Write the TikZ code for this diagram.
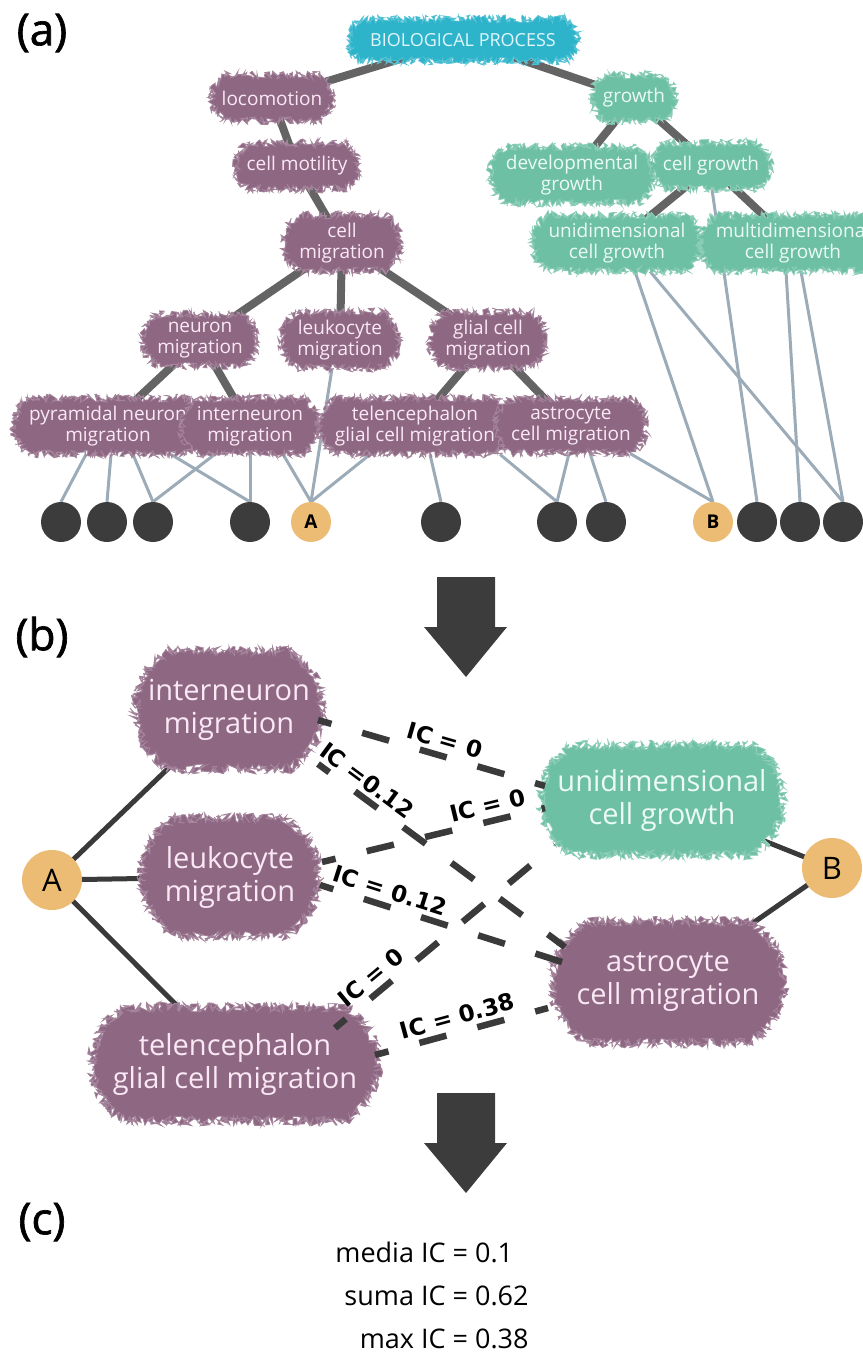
\documentclass[tikz,border=0pt]{standalone}
\usepackage{fontspec}
\setmainfont{Open Sans}
\newfontfamily\labelfont{DejaVu Sans}
\newfontfamily\panelfont[FakeBold=1.5]{Open Sans}
\usetikzlibrary{decorations.pathmorphing}
\usetikzlibrary{shapes.misc}
\usetikzlibrary{backgrounds}

\definecolor{mauve}{RGB}{142,103,131}
\definecolor{mauvetext}{RGB}{250,232,245}
\definecolor{mint}{RGB}{110,192,165}
\definecolor{minttext}{RGB}{235,250,244}
\definecolor{rootcyan}{RGB}{45,180,203}
\definecolor{roottext}{RGB}{225,246,250}
\definecolor{isagray}{RGB}{100,100,100}
\definecolor{annogray}{RGB}{156,171,184}
\definecolor{leafgray}{RGB}{60,60,60}
\definecolor{protorange}{RGB}{236,188,117}
\definecolor{darkline}{RGB}{58,58,58}

\tikzset{
  fuzz/.style={decorate, decoration={random steps, segment length=1pt, amplitude=#1}},
  blob/.style={rounded rectangle, rounded rectangle arc length=120, fuzz=4pt, fill=#1, draw=#1!80!white, line width=0.8pt, align=center, inner xsep=9pt, inner ysep=8pt},
  mterm/.style={blob=mauve, minimum height=46pt, text=mauvetext, font=\fontsize{19}{21}\selectfont},
  gterm/.style={blob=mint, minimum height=46pt, text=minttext, font=\fontsize{19}{21}\selectfont},
  rterm/.style={blob=rootcyan, text=roottext, font=\fontsize{18}{21}\selectfont},
  bmterm/.style={blob=mauve, fuzz=5pt, text=mauvetext, font=\fontsize{29}{33}\selectfont},
  bgterm/.style={blob=mint, fuzz=5pt, text=minttext, font=\fontsize{29}{33}\selectfont},
  leaf/.style={circle, fill=leafgray, minimum size=40pt, inner sep=0pt},
  prot/.style={circle, fill=protorange, minimum size=40pt, inner sep=0pt, font=\bfseries\fontsize{19}{19}\selectfont},
  bprot/.style={circle, fill=protorange, minimum size=60pt, inner sep=0pt, font=\fontsize{31}{31}\selectfont},
  isa/.style={line width=8pt, draw=isagray},
  anno/.style={line width=3pt, draw=annogray},
  link/.style={line width=5pt, draw=darkline},
  simline/.style={line width=6.5pt, draw=darkline, dash pattern=on 28pt off 32pt, dash phase=14pt},
  iclabel/.style={sloped, above=3pt, inner sep=1pt, font=\labelfont\bfseries\fontsize{23}{23}\selectfont},
  panel/.style={font=\panelfont\fontsize{44}{44}\selectfont},
  summary/.style={font=\fontsize{27}{32}\selectfont},
  arrowfill/.style={fill=leafgray},
}

\begin{document}
\begin{tikzpicture}[x=1pt,y=-1pt]
\pgfmathsetseed{7}
\useasboundingbox (0,0) rectangle (862,1359);

% (a) ontology
\node [panel] (pa) at (42,33) {(a)};
\node [rterm, minimum width=246, minimum height=42] (bp) at (463,40) {BIOLOGICAL PROCESS};
\node [mterm] (loco) at (272,98) {locomotion};
\node [mterm] (motil) at (297,166) {cell motility};
\node [mterm] (cmig) at (342,243) {cell\\migration};
\node [mterm] (nmig) at (200,340) {neuron\\migration};
\node [mterm] (lmig) at (340,340) {leukocyte\\migration};
\node [mterm] (gmig) at (488,340) {glial cell\\migration};
\node [mterm] (pmig) at (108,426) {pyramidal neuron\\migration};
\node [mterm] (imig) at (250,426) {interneuron\\migration};
\node [mterm] (tmig) at (415,426) {telencephalon\\glial cell migration};
\node [mterm] (amig) at (571,426) {astrocyte\\cell migration};
\node [gterm] (grow) at (634,98) {growth};
\node [gterm] (dgrow) at (572,175) {developmental\\growth};
\node [gterm] (cgrow) at (711,166) {cell growth};
\node [gterm] (ugrow) at (617,243) {unidimensional\\cell growth};
\node [gterm] (mgrow) at (793,243) {multidimensional\\cell growth};

\foreach \x/\n in {61/l1,107/l2,153/l3,250/l4,441/l5,557/l6,606/l7,757/l8,800/l9,843/l10}
  \node [leaf] (\n) at (\x,522) {};
\node [prot] (pA) at (311,522) {A};
\node [prot] (pB) at (713,522) {B};

\begin{scope}[on background layer]
\foreach \u/\v in {bp/loco,bp/grow,loco/motil,motil/cmig,cmig/nmig,cmig/lmig,cmig/gmig,nmig/pmig,nmig/imig,gmig/tmig,gmig/amig,grow/dgrow,grow/cgrow,cgrow/ugrow,cgrow/mgrow}
  \draw [isa] (\u.center) -- (\v.center);
\foreach \u/\s/\v in {pmig/-22pt/l1,pmig/3pt/l2,pmig/25pt/l3,pmig/63pt/l4,imig/-35pt/l3,imig/0pt/l4,imig/33pt/pA,lmig/-8pt/pA,tmig/-45pt/pA,tmig/15pt/l5,tmig/85pt/l6,amig/-2pt/l6,amig/19pt/l7,amig/59pt/pB,ugrow/18pt/pB,ugrow/33pt/l10,cgrow/1pt/l8,mgrow/-7pt/l9,mgrow/8pt/l10}
  \draw [anno] ([xshift=\s]\u.south) -- (\v.north);
\end{scope}

% (b) pairwise comparison
\node [panel] (pb) at (42,637) {(b)};
\fill [arrowfill] (437,577) -- (495,577) -- (495,627) -- (507,627) -- (466,677) -- (424,627) -- (437,627) -- cycle;

\node [bmterm, minimum width=206, minimum height=118] (inm) at (229,710) {interneuron\\migration};
\node [bmterm, minimum width=196, minimum height=118] (lkm) at (230,877) {leukocyte\\migration};
\node [bmterm, minimum width=304, minimum height=114] (tgm) at (235,1064) {telencephalon\\glial cell migration};
\node [bgterm, minimum width=260, minimum height=110] (ucg) at (662,800) {unidimensional\\cell growth};
\node [bmterm, minimum width=250, minimum height=122] (acm) at (668,982) {astrocyte\\cell migration};
\node [bprot] (bA) at (52,880) {A};
\node [bprot] (bB) at (832,868) {B};

\begin{scope}[on background layer]
\foreach \u/\v in {bA/inm,bA/lkm,bA/tgm,ucg/bB,acm/bB}
  \draw [link] (\u.center) -- (\v.center);
\end{scope}

\draw [simline] ([shift={(89,10)}]inm.center) -- node [iclabel, pos=0.54] (ic1) {IC = 0} ([shift={(-117,-14)}]ucg.center);
\draw [simline] ([shift={(89,54)}]inm.center) -- node [iclabel, pos=0.16] (ic2) {IC =0.12} ([shift={(-103,-35)}]acm.center);
\draw [simline] ([shift={(92,-15)}]lkm.center) -- node [iclabel, pos=0.76] (ic3) {IC = 0} ([shift={(-117,8)}]ucg.center);
\draw [simline] ([shift={(90,8)}]lkm.center) -- node [iclabel, pos=0.27] (ic4) {IC = 0.12} ([shift={(-106,-20)}]acm.center);
\draw [simline] ([shift={(100,-36)}]tgm.center) -- node [iclabel, pos=0.21] (ic5) {IC = 0} ([shift={(-107,45)}]ucg.center);
\draw [simline] ([shift={(140,-9)}]tgm.center) -- node [iclabel, pos=0.50] (ic6) {IC = 0.38} ([shift={(-120,26)}]acm.center);

% (c) aggregation
\fill [arrowfill] (437,1093) -- (495,1093) -- (495,1143) -- (507,1143) -- (466,1193) -- (424,1143) -- (437,1143) -- cycle;
\node [panel] (pc) at (42,1222) {(c)};
\node [summary] (sum) at (432,1297) {\renewcommand{\arraystretch}{1.35}\begin{tabular}{@{}r@{ = }l@{}}media IC & 0.1\\ suma IC & 0.62\\ max IC & 0.38\end{tabular}};

\end{tikzpicture}
\end{document}
